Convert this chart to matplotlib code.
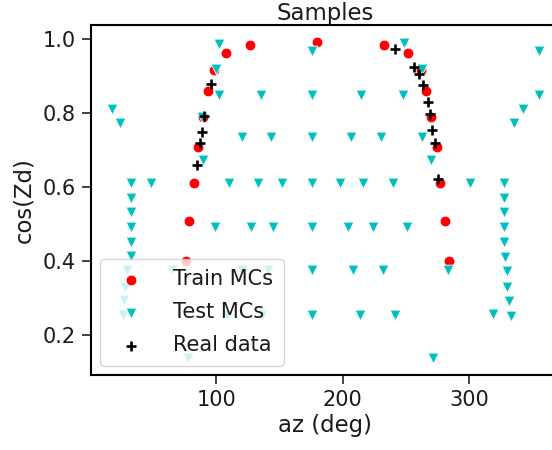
import matplotlib
matplotlib.use("Agg")
import matplotlib.pyplot as plt

# ---- data ----
train_az = [76.3, 78.9, 82.8, 85.9, 89.4, 93.8, 98.3, 107.8, 126.8, 180.0,
            232.7, 251.9, 262.0, 265.9, 269.9, 274.4, 277.0, 281.0, 284.1]
train_cz = [0.401, 0.508, 0.610, 0.709, 0.791, 0.861, 0.917, 0.962, 0.985, 0.994,
            0.985, 0.962, 0.917, 0.861, 0.789, 0.708, 0.610, 0.508, 0.401]

test_az = [102.1, 248.5, 175.6, 355.0, 99.9, 262.5,
           102.1, 135.7, 175.6, 214.3, 248.0, 355.0,
           17.5, 24.0, 342.4, 335.5, 88.6,
           120.2, 143.2, 175.6, 206.6, 230.1, 262.8,
           89.9, 269.6,
           32.6, 48.7, 110.4, 133.4, 151.9, 175.6, 197.9, 216.4, 240.1, 300.7, 327.6,
           32.6, 32.6, 32.6, 32.6, 32.6, 29.3, 28.0, 27.2, 26.2,
           327.6, 327.6, 327.6, 327.8, 328.6, 329.7, 330.2, 331.3, 332.9, 319.2,
           99.1, 127.3, 144.7, 175.6, 204.0, 223.8, 250.7,
           65.2, 120.2, 141.3, 175.6, 208.5, 231.7, 283.1,
           108.7, 136.5, 175.6, 213.8, 241.4,
           77.9, 271.2]
test_cz = [0.987, 0.989, 0.969, 0.969, 0.919, 0.921,
           0.849, 0.849, 0.849, 0.849, 0.849, 0.849,
           0.811, 0.773, 0.811, 0.773, 0.791,
           0.735, 0.735, 0.735, 0.735, 0.735, 0.735,
           0.673, 0.673,
           0.611, 0.611, 0.611, 0.611, 0.611, 0.611, 0.611, 0.611, 0.611, 0.611, 0.611,
           0.572, 0.534, 0.491, 0.452, 0.414, 0.376, 0.331, 0.295, 0.254,
           0.572, 0.534, 0.491, 0.452, 0.410, 0.374, 0.331, 0.293, 0.251, 0.256,
           0.493, 0.493, 0.493, 0.493, 0.493, 0.493, 0.493,
           0.376, 0.376, 0.376, 0.376, 0.376, 0.376, 0.376,
           0.254, 0.254, 0.254, 0.254, 0.254,
           0.137, 0.137]

real_az = [84.7, 87.3, 88.9, 90.7, 96.0,
           241.4, 256.7, 260.6, 263.3, 267.7, 269.1, 270.4, 273.0, 275.7]
real_cz = [0.660, 0.719, 0.750, 0.792, 0.878,
           0.974, 0.924, 0.906, 0.876, 0.831, 0.798, 0.756, 0.720, 0.621]

xticks = [100, 200, 300]
yticks = [0.2, 0.4, 0.6, 0.8, 1.0]

# ---- style ----
txt = "#1a1a1a"
plt.rcParams.update({
    "font.family": ["DejaVu Sans"],
    "axes.linewidth": 1.5,
    "xtick.major.size": 6.7, "ytick.major.size": 6.7,
    "xtick.major.width": 1.15, "ytick.major.width": 1.15,
    "xtick.major.pad": 4.0, "ytick.major.pad": 4.0,
    "xtick.labelsize": 15, "ytick.labelsize": 15,
    "xtick.color": txt, "ytick.color": txt,
    "axes.labelcolor": txt, "text.color": txt,
})

fig = plt.figure(figsize=(5.52, 4.5), dpi=100)
ax = fig.add_axes([0.1645, 0.1667, 0.8473, 0.7784])

s = 60
ax.scatter(train_az, train_cz, s=s, c="red", marker="o",
           edgecolors="white", linewidths=0.6, label="Train MCs", zorder=2)
ax.scatter(test_az, test_cz, s=s, c="c", marker="v",
           edgecolors="white", linewidths=0.6, label="Test MCs", zorder=3)
ax.scatter(real_az, real_cz, s=s, c="black", marker="+",
           linewidths=1.9, label="Real data", zorder=4)

ax.set_xlim(0.95, 370.7)
ax.set_ylim(0.092, 1.0395)
ax.set_xticks(xticks)
ax.set_yticks(yticks)
ax.set_xlabel("az (deg)", fontsize=16.4, labelpad=3)
ax.set_ylabel("cos(Zd)", fontsize=16.4, labelpad=5)
ax.set_title("Samples", fontsize=16.4, pad=3)

leg = ax.legend(loc="lower left", fontsize=15, framealpha=0.8,
                scatterpoints=1, borderaxespad=0.45, handletextpad=1.0,
                labelspacing=0.62, borderpad=0.5)
leg.get_frame().set_edgecolor("#cccccc")

fig.savefig("out.png", dpi=100)
